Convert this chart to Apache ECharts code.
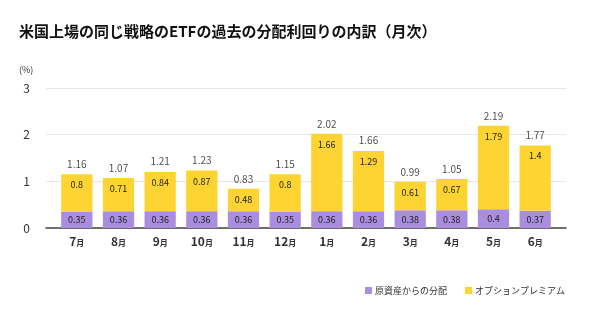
<!DOCTYPE html>
<html>
<head>
<meta charset="utf-8">
<script src="https://cdn.jsdelivr.net/npm/echarts@6/dist/echarts.min.js"></script>
<style>
  html, body { margin: 0; padding: 0; background: #fff; }
  #chart { width: 600px; height: 330px; }
</style>
</head>
<body>
<div id="chart"></div>
<script>
// Monthly distribution breakdown (%)
const months = ['7', '8', '9', '10', '11', '12', '1', '2', '3', '4', '5', '6'];
const underlying = [0.35, 0.36, 0.36, 0.36, 0.36, 0.35, 0.36, 0.36, 0.38, 0.38, 0.4, 0.37];
const premium = [0.8, 0.71, 0.84, 0.87, 0.48, 0.8, 1.66, 1.29, 0.61, 0.67, 1.79, 1.4];
const totals = [1.16, 1.07, 1.21, 1.23, 0.83, 1.15, 2.02, 1.66, 0.99, 1.05, 2.19, 1.77];
const yTicks = [0, 1, 2, 3];

const seriesNames = ['原資産からの分配', 'オプションプレミアム'];
const purple = '#a98ddf';
const yellow = '#fdd431';
const FONT = '"Noto Sans CJK JP", "Noto Sans", sans-serif';

const chart = echarts.init(document.getElementById('chart'), null, { renderer: 'canvas' });

const Y_MAX = yTicks[yTicks.length - 1];

chart.setOption({
  animation: false,
  textStyle: { fontFamily: FONT },
  title: [{
    text: '米国上場の同じ戦略のETFの過去の分配利回りの内訳（月次）',
    left: 14, top: 19,
    textStyle: { fontSize: 15, fontWeight: 'bold', color: '#111', fontFamily: FONT }
  }, {
    text: '(%)',
    left: 14, top: 60,
    textStyle: { fontSize: 9, fontWeight: 'normal', color: '#333', fontFamily: FONT }
  }],
  legend: {
    data: seriesNames,
    right: 30, top: 281,
    itemWidth: 7, itemHeight: 7,
    itemGap: 18,
    icon: 'rect',
    textStyle: { fontSize: 9, color: '#333', padding: [0, 0, 0, -2] }
  },
  grid: [
    // bars
    { left: 56, right: 44, top: 88, bottom: 102 },
    // frame: gridlines and baseline spanning the full width
    { left: 46, right: 34, top: 88, bottom: 102 }
  ],
  xAxis: [{
    type: 'category', gridIndex: 0, data: months,
    axisLine: { show: false }, axisTick: { show: false },
    axisLabel: {
      interval: 0,
      margin: 7,
      formatter: v => '{n|' + v + '}{m|月}',
      rich: {
        n: { fontSize: 12, fontWeight: 'bold', color: '#333', fontFamily: FONT },
        m: { fontSize: 8, fontWeight: 'bold', color: '#333', fontFamily: FONT, padding: [3, 0, 0, 0] }
      }
    }
  }, {
    type: 'value', gridIndex: 1, min: 0, max: 1, show: true,
    axisLine: { show: true, lineStyle: { color: '#444', width: 1.5 } },
    axisTick: { show: false }, axisLabel: { show: false }, splitLine: { show: false }
  }],
  yAxis: [{
    type: 'value', gridIndex: 0, min: 0, max: Y_MAX, interval: 1, show: false
  }, {
    type: 'value', gridIndex: 1, min: 0, max: Y_MAX, interval: 1,
    axisLine: { show: false }, axisTick: { show: false },
    axisLabel: { margin: 16, fontSize: 12, color: '#333' },
    splitLine: { lineStyle: { color: '#e6e6e6', width: 1 } }
  }],
  series: [{
    name: seriesNames[0], type: 'bar', stack: 'total',
    xAxisIndex: 0, yAxisIndex: 0,
    data: underlying, barWidth: '75%',
    itemStyle: { color: purple },
    label: { show: true, position: 'inside', fontSize: 9, color: '#222' },
    z: 3
  }, {
    name: seriesNames[1], type: 'bar', stack: 'total',
    xAxisIndex: 0, yAxisIndex: 0,
    data: premium, barWidth: '75%',
    itemStyle: { color: yellow },
    label: { show: true, position: 'insideTop', distance: 6, fontSize: 9, color: '#222' },
    z: 3
  }, {
    // month totals shown above each stack
    name: 'total', type: 'scatter',
    xAxisIndex: 0, yAxisIndex: 0,
    data: totals, symbolSize: 0,
    label: { show: true, position: 'top', distance: 5, fontSize: 10, color: '#222' },
    silent: true, z: 4
  }]
});
</script>
</body>
</html>
